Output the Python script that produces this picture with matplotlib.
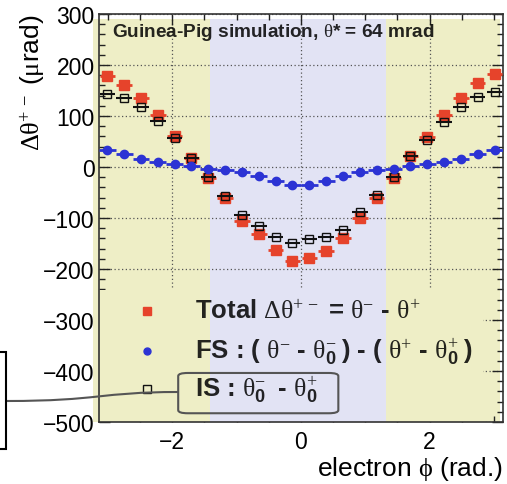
"""
Charge asymmetry of the deflection angle vs electron azimuth (Guinea-Pig).
"""
import numpy as np
import matplotlib
matplotlib.use('Agg')
import matplotlib.pyplot as plt
from matplotlib.patches import Rectangle, FancyBboxPatch, PathPatch
from matplotlib.path import Path
from matplotlib.ticker import MultipleLocator

matplotlib.rc('font', family='Liberation Sans', size=16.5)
matplotlib.rc('mathtext', fontset='custom', rm='Liberation Serif',
              it='Liberation Serif:italic', bf='Liberation Sans:bold',
              sf='Liberation Sans')

# 24 phi bins over [-pi, pi]
nbins = 24
phi = -np.pi + (np.arange(nbins) + 0.5) * 2 * np.pi / nbins
half_bin = 0.12

# values (urad)
total = [179, 161, 136, 101, 61, 18, -22, -60, -106, -132, -163, -184,
         -178, -164, -140, -101, -61, -22, 21, 58, 101, 135, 164, 182]
fs = [33, 25, 16, 10, 5, 1, -3, -5, -10, -17, -28, -35,
      -35, -27, -17, -10, -6, -3, 1, 5, 10, 16, 25, 34]
initial = [144, 135, 118, 90, 56, 18, -20, -57, -94, -116, -137, -149,
           -142, -137, -123, -89, -55, -20, 21, 52, 89, 118, 138, 148]

# shaded regions: edges and colours
band_edges = [-3.24, -1.41, 1.33, 3.10]
band_colors = ['#eeeec6', '#e2e3f4', '#eeeec6']

red = '#e6432b'
blue = '#2c33d4'
txt_color = (0.0, 0.0, 0.0, 0.85)

legend_labels = [
    r'Total $\Delta\mathrm{\theta}^{+\,-}$ = $\mathrm{\theta}^{-}$ - $\mathrm{\theta}^{+}$',
    r'FS : ( $\mathrm{\theta}^{-}$ - $\mathrm{\theta}^{-}_{\mathbf{0}}\;$) - '
    r'( $\mathrm{\theta}^{+}$ - $\mathrm{\theta}^{+}_{\mathbf{0}}\;$)',
    r'IS : $\mathrm{\theta}^{-}_{\mathbf{0}}\;$ - $\mathrm{\theta}^{+}_{\mathbf{0}}$',
]

fig = plt.figure(figsize=(5.07, 4.85), dpi=100, facecolor='white')
ax = fig.add_axes([0.195, 0.128, 0.797, 0.841])
ax.set_xlim(-np.pi, np.pi)
ax.set_ylim(-500, 300)

# background bands
for i, col in enumerate(band_colors):
    ax.add_patch(Rectangle((band_edges[i], -500), band_edges[i + 1] - band_edges[i], 790,
                           facecolor=col, edgecolor='none', zorder=0, clip_on=False))

ax.set_axisbelow(True)
ax.grid(True, which='major', linestyle=(0, (1, 2)), color='#555555', linewidth=0.9)
# legend area hides the grid
for i, col in enumerate(band_colors):
    x0 = max(band_edges[i], -np.pi)
    x1 = min(band_edges[i + 1], 2.83)
    if x1 > x0:
        ax.add_patch(Rectangle((x0, -500), x1 - x0, 258,
                               facecolor=col, edgecolor='none', zorder=0.6))

# data
ax.errorbar(phi, total, xerr=half_bin, fmt='s', color=red, ms=6.5, elinewidth=2,
            capsize=0, zorder=3)
ax.errorbar(phi, initial, xerr=half_bin, fmt='s', mfc='none', mec='#111111', ecolor='#111111',
            ms=6.3, mew=1.0, elinewidth=1.5, capsize=0, zorder=4)
ax.errorbar(phi, fs, xerr=0.131, fmt='o', color=blue, ms=6, elinewidth=2,
            capsize=0, zorder=5)

# axes styling (ROOT-like)
ax.xaxis.set_major_locator(MultipleLocator(2))
ax.xaxis.set_minor_locator(MultipleLocator(0.5))
ax.yaxis.set_major_locator(MultipleLocator(100))
ax.yaxis.set_minor_locator(MultipleLocator(20))
ax.tick_params(which='both', direction='in', top=True, right=True, width=1, color='#222222')
ax.tick_params(which='major', length=8)
ax.tick_params(which='minor', length=4)
ax.tick_params(axis='y', pad=3)
ax.tick_params(axis='x', pad=6)
for s in ax.spines.values():
    s.set_color('#333333')
    s.set_linewidth(1.2)

ax.set_ylabel(r'$\Delta\mathrm{\theta}^{+\,-}$ ($\mathrm{\mu}$rad)', loc='top', fontsize=19)
ax.yaxis.set_label_coords(-0.127, 1.0)
ax.set_xlabel(r'electron $\mathrm{\phi}$ (rad.)', loc='right', fontsize=19)
ax.xaxis.set_label_coords(1.0, -0.078)

ax.text(-2.93, 266, r'Guinea-Pig simulation, $\mathrm{\theta}$* = 64 mrad', fontsize=13.7,
        fontweight='bold', color=txt_color, va='center', zorder=6)

# legend
key_y = [-283, -361, -436]
key_style = [dict(marker='s', color=red, ms=6),
             dict(marker='o', color=blue, ms=5),
             dict(marker='s', mfc='none', mec='#111111', ms=6, mew=1)]
for lab, yk, st in zip(legend_labels, key_y, key_style):
    ax.plot([-2.39], [yk], linestyle='none', zorder=6, **st)
    ax.text(-1.64, yk, lab, fontsize=18.5, fontweight='bold', color=txt_color,
            va='center', ha='left', zorder=6)

ax.add_patch(FancyBboxPatch((-1.908, -483), 2.49, 79,
                            boxstyle='round,pad=0,rounding_size=0.15',
                            facecolor='none', edgecolor='#555555', linewidth=1.5,
                            mutation_aspect=40, zorder=6, clip_on=False))

# connector to the box outside the frame
W, H = 507., 485.
p = [(6.5, 402), (100, 402), (100, 393), (178, 393)]
verts = [(x / W, 1 - y / H) for x, y in p]
fig.add_artist(PathPatch(Path(verts, [Path.MOVETO, Path.CURVE4, Path.CURVE4, Path.CURVE4]),
                         facecolor='none', edgecolor='#555555', linewidth=1.5,
                         transform=fig.transFigure))
fig.add_artist(Rectangle((-0.02, 1 - 450 / H), 0.032, 97 / H, facecolor='white',
                         edgecolor='black', linewidth=1.5, transform=fig.transFigure))

plt.savefig('out.png', dpi=100)
plt.close()
